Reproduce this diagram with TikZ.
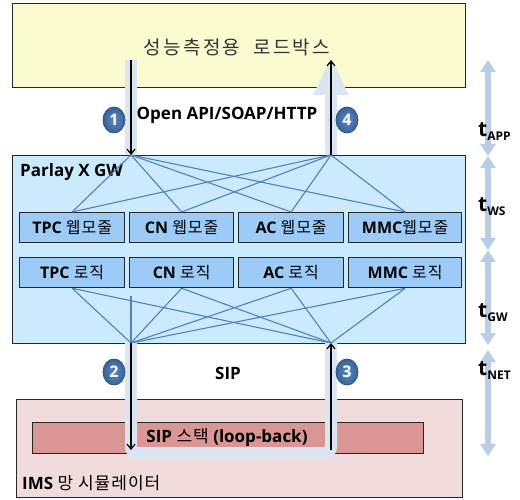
\documentclass[tikz,border=0pt]{standalone}
\usepackage{fontspec}
\setmainfont{Open Sans}
\newfontfamily\kr[LetterSpace=6]{Noto Sans CJK KR}
\newfontfamily\krwide[LetterSpace=12,WordSpace=2]{Noto Sans CJK KR}
\newcommand\ko[1]{{\kr\mdseries #1}}
\usetikzlibrary{arrows.meta,shapes.geometric}
\definecolor{loadfill}{HTML}{FBFBD0}
\definecolor{gwfill}{HTML}{CCEAFD}
\definecolor{modfill}{HTML}{9DCBF7}
\definecolor{imsfill}{HTML}{F2DCDB}
\definecolor{sipfill}{HTML}{D99694}
\definecolor{bandc}{HTML}{DCE6F2}
\definecolor{tline}{HTML}{B9CDE5}
\definecolor{mesh}{HTML}{4F81BD}
\definecolor{badgein}{HTML}{5A88C0}
\definecolor{badgeout}{HTML}{3A6498}
\definecolor{badgeedge}{HTML}{2C5283}
\definecolor{krtext}{HTML}{333333}
\begin{document}
\begin{tikzpicture}[x=1pt,y=-1pt,
  box/.style={draw=black!85,line width=1.3pt,anchor=north west,inner sep=0pt},
  modbox/.style={box,fill=modfill,minimum height=30pt,
    font=\bfseries\fontsize{16}{16}\selectfont},
  lbl/.style={font=\bfseries\fontsize{17}{17}\selectfont,inner sep=0pt},
  meshline/.style={draw=mesh,line width=1.1pt},
  flow/.style={draw=black,line width=1.2pt,-{Straight Barb[length=5pt,width=8pt]}},
  badge/.style={ellipse,minimum width=22pt,minimum height=26pt,inner sep=0pt,
    inner color=badgein,outer color=badgeout,draw=badgeedge,line width=0.8pt,
    text=white,font=\bfseries\fontsize{16}{16}\selectfont},
  tarrow/.style={draw=tline,line width=6pt,
    {Triangle[width=15pt,length=12pt]}-{Triangle[width=15pt,length=12pt]}},
  tlabel/.style={anchor=base west,inner sep=0pt,font=\bfseries\fontsize{21}{21}\selectfont}
]
\useasboundingbox (0,0) rectangle (520,500);

% load box
\node[box,fill=loadfill,minimum width=453pt,minimum height=84pt] (load) at (12,3) {};
\node[font=\krwide\fontsize{19}{19}\selectfont,text=krtext] (title) at (237,47) {성능측정용 로드박스};

% Parlay X gateway
\node[box,fill=gwfill,minimum width=453pt,minimum height=188pt] (gw) at (12,155) {};
\node[lbl,anchor=west] (gwname) at (20,172) {Parlay X GW};

% pale request / response bands
\fill[bandc] (125,60) rectangle (137,155);
\fill[bandc] (325,155) -- (325,95) -- (313,95) -- (331,58) -- (349,95) -- (337,95) -- (337,155) -- cycle;

% web modules
\node[modbox,minimum width=105pt] (w1) at (19,212) {TPC \ko{웹모줄}};
\node[modbox,minimum width=104pt] (w2) at (129,212) {CN \ko{웹모줄}};
\node[modbox,minimum width=105pt] (w3) at (238,212) {AC \ko{웹모줄}};
\node[modbox,minimum width=113pt] (w4) at (348,212) {MMC\ko{웹모줄}};
% logic modules
\node[modbox,minimum width=105pt] (l1) at (19,257) {TPC \ko{로직}};
\node[modbox,minimum width=104pt] (l2) at (129,257) {CN \ko{로직}};
\node[modbox,minimum width=105pt] (l3) at (238,257) {AC \ko{로직}};
\node[modbox,minimum width=113pt] (l4) at (348,257) {MMC \ko{로직}};

% connection points
\coordinate (apiIn) at (131,60);
\coordinate (apiOut) at (331,60);
\coordinate (wsL) at (131,155);
\coordinate (wsR) at (331,155);
\coordinate (netL) at (131,343);
\coordinate (netR) at (331,343);
\coordinate (stub) at (131,296);
\coordinate (sipIn) at (131,450);
\coordinate (sipOut) at (331,450);

% fan-out mesh
\foreach \m in {w1,w2,w3,w4}{
  \draw[meshline] (wsL) -- (\m.north);
  \draw[meshline] (wsR) -- (\m.north);
}
\foreach \m in {l1,l2,l3,l4}{
  \draw[meshline] (\m.south) -- (netL);
  \draw[meshline] (\m.south) -- (netR);
}
\draw[meshline] (stub) -- (netL);

% IMS simulator
\node[box,fill=imsfill,minimum width=446pt,minimum height=98pt] (ims) at (16,399) {};
\node[box,fill=sipfill,minimum width=391pt,minimum height=31pt] (sip) at (32,422) {};
\draw[bandc,line width=12pt,rounded corners=6pt] (netL) -- (131,453) -- (331,453) -- (netR);
\node[lbl,anchor=west] (imsname) at (22,483) {IMS \ko{망 시뮬레이터}};
\node[lbl] (siptext) at (227,438) {SIP \ko{스택} (loop-back)};

% labels between layers
\node[lbl] (api) at (227,115) {Open API/SOAP/HTTP};
\node[lbl] (siplbl) at (228,373) {SIP};

% message flow
\draw[flow] (apiIn) -- (wsL);
\draw[flow] (wsR) -- (apiOut);
\draw[flow] (netL) -- (sipIn);
\draw[flow] (sipOut) -- (netR);

\node[badge] (b1) at (114,120) {1};
\node[badge] (b4) at (347,120) {4};
\node[badge] (b2) at (114,372) {2};
\node[badge] (b3) at (347,372) {3};

% timing scale
\coordinate (t0) at (488,60);
\coordinate (t1) at (488,156);
\coordinate (t2) at (488,250);
\coordinate (t3) at (488,345);
\coordinate (t4) at (488,350);
\coordinate (t5) at (488,456);
\draw[tarrow] (t0) -- (t1);
\draw[tarrow] (t1) -- (t2);
\draw[tarrow] (t2) -- (t3);
\draw[tarrow] (t4) -- (t5);
\newcommand\tsub[1]{\raisebox{-4pt}{\fontsize{12}{12}\selectfont #1}}
\node[tlabel] (tapp) at (478,137) {t\tsub{APP}};
\node[tlabel] (tws) at (478,212) {t\tsub{WS}};
\node[tlabel] (tgw) at (478,317) {t\tsub{GW}};
\node[tlabel] (tnet) at (478,375) {t\tsub{NET}};
\end{tikzpicture}
\end{document}
